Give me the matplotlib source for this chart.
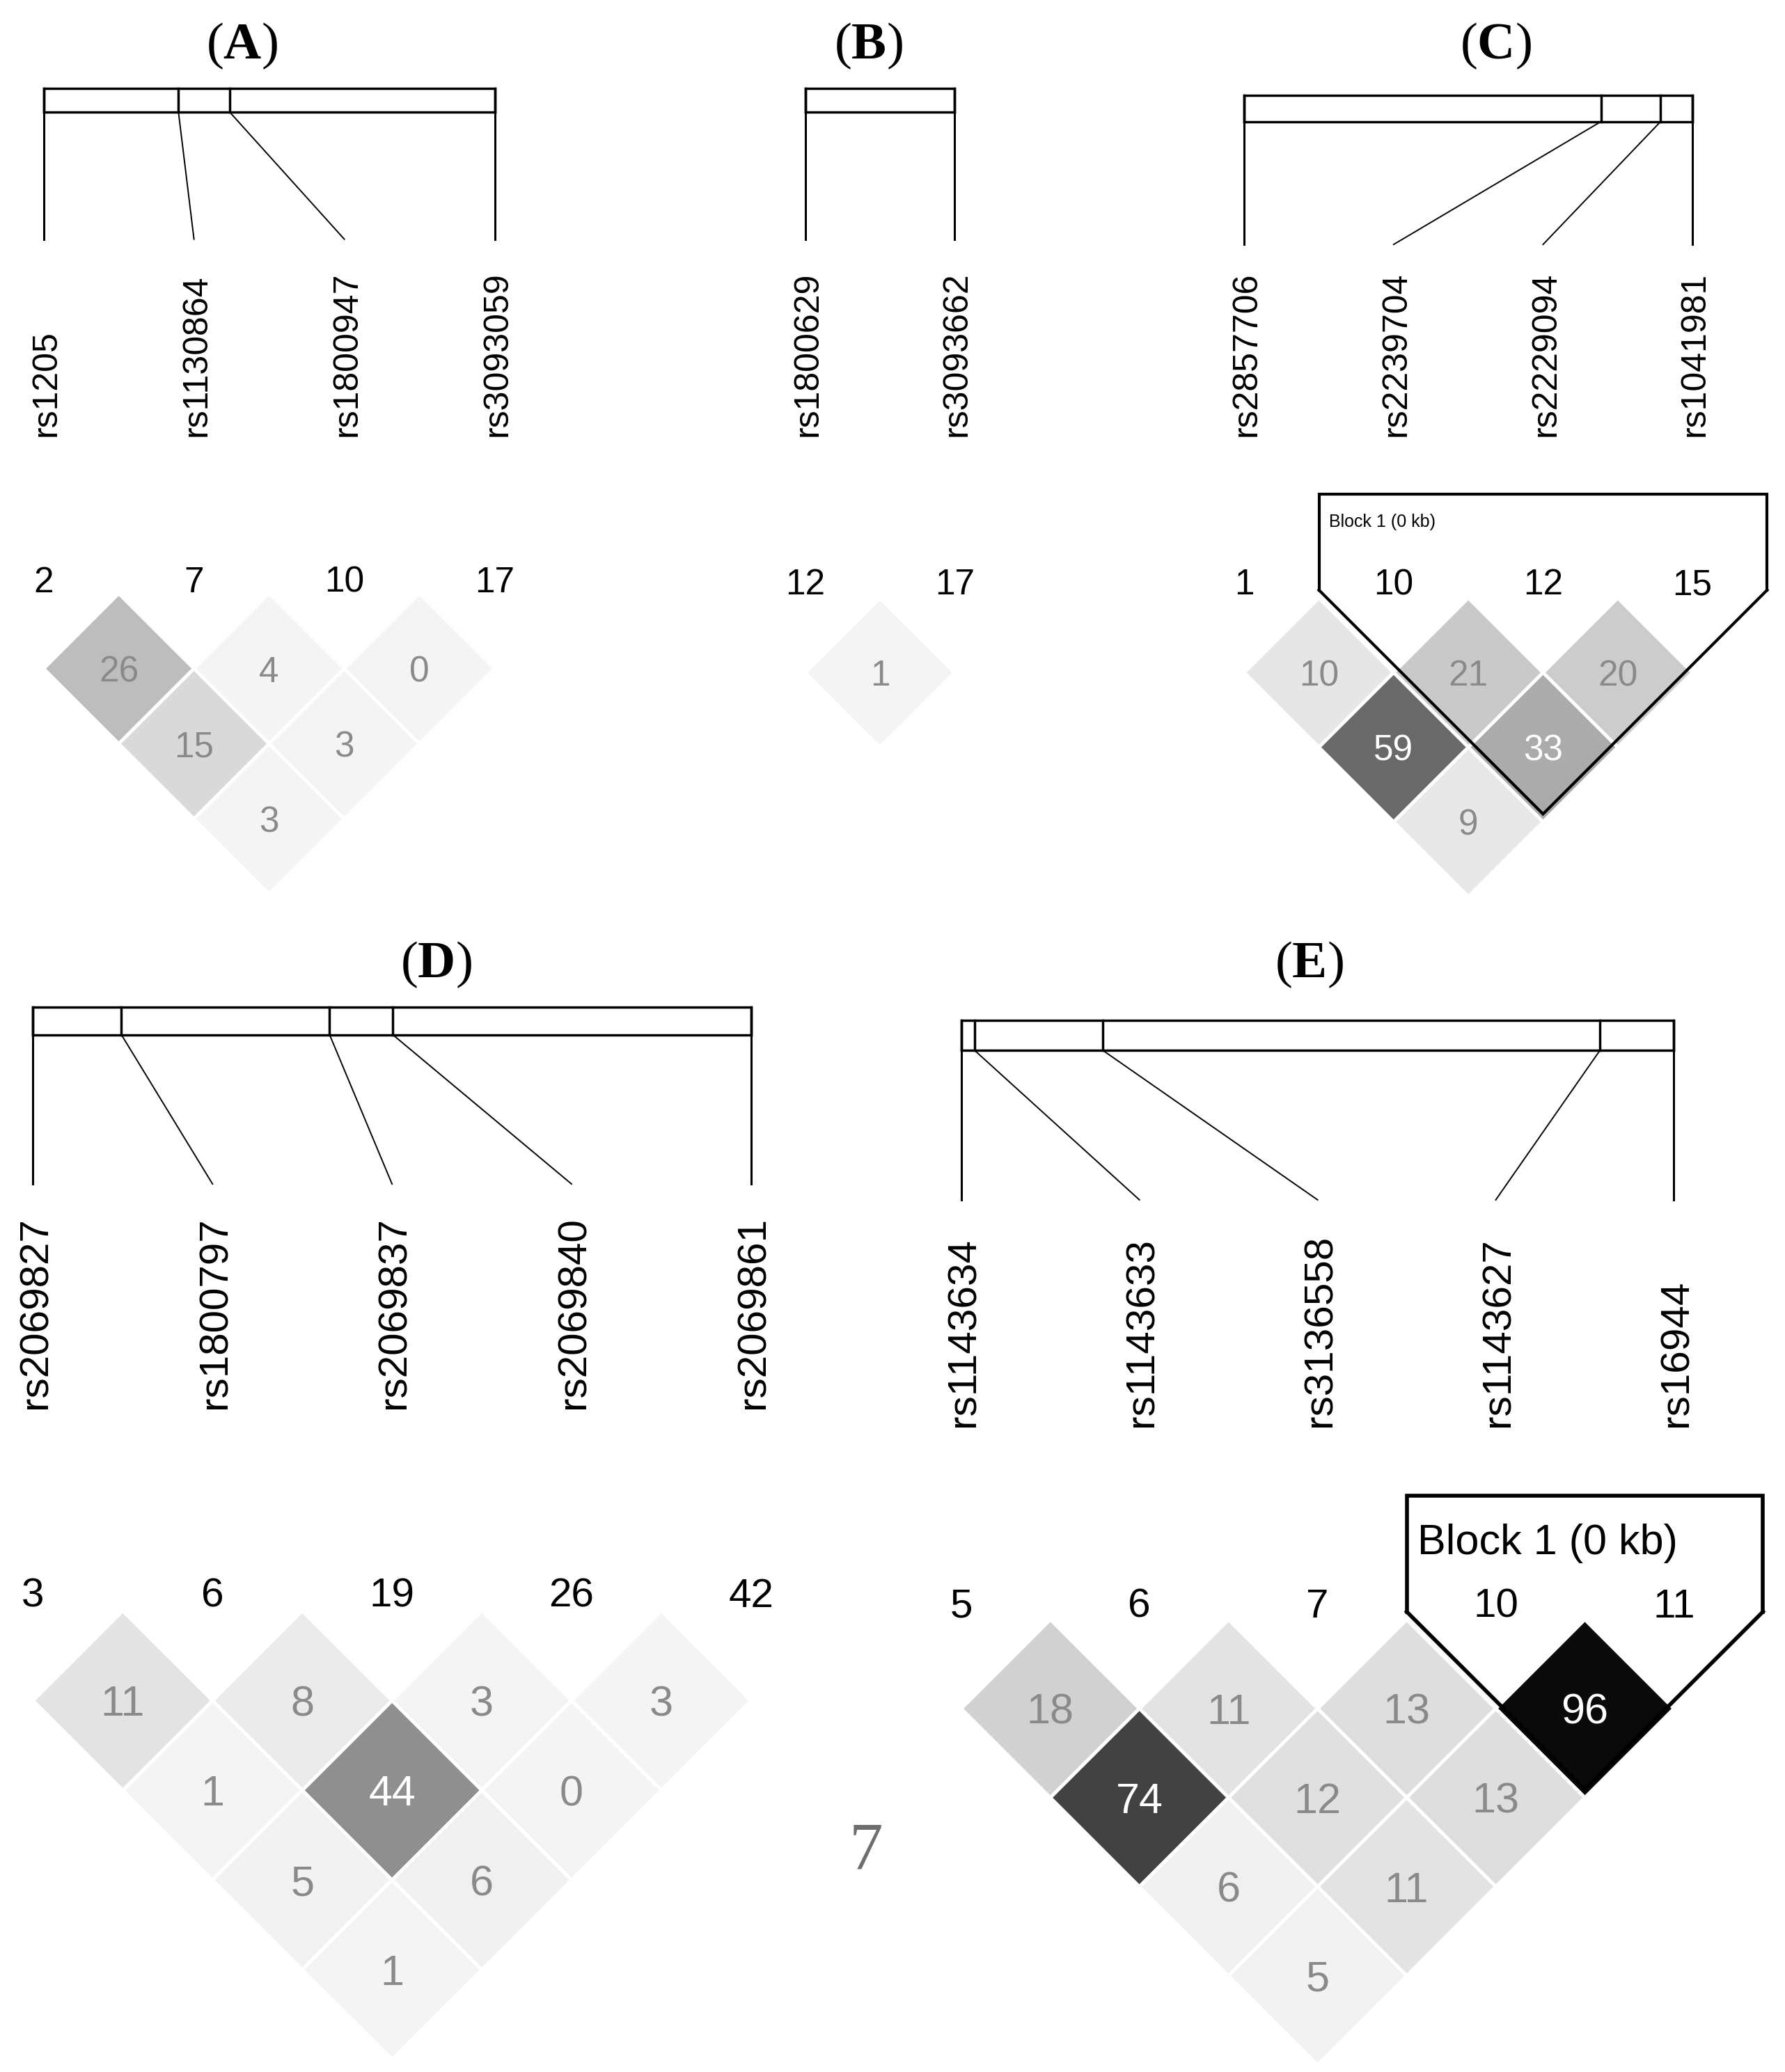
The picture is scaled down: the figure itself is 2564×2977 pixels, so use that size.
import matplotlib.pyplot as plt
from matplotlib.patches import Polygon, Rectangle

plt.rcParams['font.family'] = ['Liberation Sans', 'DejaVu Sans']
plt.rcParams['mathtext.fontset'] = 'custom'
plt.rcParams['mathtext.rm'] = 'Liberation Serif'
plt.rcParams['mathtext.bf'] = 'Liberation Serif:bold'

# ---------------------------------------
# Data (SNPs, marker numbers, relative physical position, r2 x100 by row)
# ---------------------------------------
a_snps = ["rs1205", "rs1130864", "rs1800947", "rs3093059"]
a_ids = [2, 7, 10, 17]
a_pos = [0.0, 0.299, 0.413, 1.0]
a_ld = [[26, 4, 0], [15, 3], [3]]

b_snps = ["rs1800629", "rs3093662"]
b_ids = [12, 17]
b_pos = [0.0, 1.0]
b_ld = [[1]]

c_snps = ["rs2857706", "rs2239704", "rs2229094", "rs1041981"]
c_ids = [1, 10, 12, 15]
c_pos = [0.0, 0.796, 0.929, 1.0]
c_ld = [[10, 21, 20], [59, 33], [9]]

d_snps = ["rs2069827", "rs1800797", "rs2069837", "rs2069840", "rs2069861"]
d_ids = [3, 6, 19, 26, 42]
d_pos = [0.0, 0.123, 0.413, 0.501, 1.0]
d_ld = [[11, 8, 3, 3], [1, 44, 0], [5, 6], [1]]

e_snps = ["rs1143634", "rs1143633", "rs3136558", "rs1143627", "rs16944"]
e_ids = [5, 6, 7, 10, 11]
e_pos = [0.0, 0.019, 0.199, 0.896, 1.0]
e_ld = [[18, 11, 13, 96], [74, 12, 13], [6, 11], [5]]


def ld_color(v):
    g = min(1 - v / 100.0, 0.955)
    return (g, g, g)


def draw_panel(ax, title, snps, ids, pos, ld, x0, sp, title_xy, bar_y,
               line_end, label_y, num_y, row1_y, fs, block=None):
    n = len(snps)
    xs = [x0 + i * sp for i in range(n)]
    left, right = xs[0], xs[-1]
    top, bot = bar_y

    # title
    ax.text(title_xy[0], title_xy[1], r"$(\mathbf{%s})$" % title,
            ha='center', va='center', fontsize=fs['title'])

    # gene bar
    ax.add_patch(Rectangle((left, top), right - left, bot - top,
                           fill=False, edgecolor='black', lw=2.5))
    for p, x in zip(pos, xs):
        px = left + p * (right - left)
        ax.plot([px, px], [top, bot], color='black', lw=2.5)
        ax.plot([px, x], [bot, line_end], color='black',
                lw=2.2 if p in (0.0, 1.0) else 1.4)

    # SNP names and marker numbers
    for x, s, k in zip(xs, snps, ids):
        ax.text(x + 2, label_y, s, rotation=90, ha='center', va='bottom',
                fontsize=fs['label'])
        ax.text(x, num_y, str(k), ha='center', va='center_baseline',
                fontsize=fs['num'], color='black')

    # LD diamonds
    h = sp / 2.0
    for d, row in enumerate(ld):
        cy = row1_y + d * h
        for i, v in enumerate(row):
            cx = (xs[i] + xs[i + d + 1]) / 2.0
            ax.add_patch(Polygon([(cx, cy - h), (cx + h, cy), (cx, cy + h),
                                  (cx - h, cy)], closed=True,
                                 facecolor=ld_color(v), edgecolor='white',
                                 lw=3.5))
            ax.text(cx, cy, str(v), ha='center', va='center_baseline',
                    fontsize=fs['ld'],
                    color='white' if v >= 30 else '#8a8a8a')

    # haplotype block outline
    if block is not None:
        i, j, btop, txt_xy, txt_fs, blw = block
        L = xs[i] - h
        R = xs[j] + h
        vtop = row1_y - h - 6
        apex = ((xs[i] + xs[j]) / 2.0, vtop + (R - L) / 2.0)
        ax.plot([L, L, R, R], [vtop, btop, btop, vtop], color='black',
                lw=blw, solid_joinstyle='miter')
        ax.plot([L, apex[0], R], [vtop, apex[1], vtop], color='black',
                lw=blw, solid_joinstyle='miter')
        ax.text(txt_xy[0], txt_xy[1], "Block 1 (0 kb)", ha='left',
                va='center', fontsize=txt_fs)


fig = plt.figure(figsize=(25.64, 29.77), dpi=100)
ax = fig.add_axes([0, 0, 1, 1])
ax.set_xlim(0, 1350)
ax.set_ylim(1568, 0)
ax.axis("off")

small = {'title': 54, 'label': 36, 'num': 37, 'ld': 37}
big = {'title': 54, 'label': 42, 'num': 42, 'ld': 44}

draw_panel(ax, "A", a_snps, a_ids, a_pos, a_ld, 33, 113.7, (183, 35),
           (67, 85), 181, 330, 438, 506, small)
draw_panel(ax, "B", b_snps, b_ids, b_pos, b_ld, 609, 113, (657, 35),
           (67, 85), 181, 330, 440, 509, small)
draw_panel(ax, "C", c_snps, c_ids, c_pos, c_ld, 941, 113, (1131, 35),
           (72, 92), 185, 330, 440, 509, small,
           block=(1, 3, 374, (1005, 395), 18, 3))
draw_panel(ax, "D", d_snps, d_ids, d_pos, d_ld, 25, 135.75, (330, 730),
           (762, 783), 896, 1066, 1205, 1287, big)
draw_panel(ax, "E", e_snps, e_ids, e_pos, e_ld, 727, 134.75, (990, 730),
           (772, 795), 908, 1080, 1213, 1293, big,
           block=(3, 4, 1132, (1072, 1168), 44, 4))

# page number
ax.text(655, 1402, "7", ha='center', va='center', fontsize=70,
        family='Liberation Serif', color='#6e6e6e')

fig.savefig("out.png", dpi=100)
